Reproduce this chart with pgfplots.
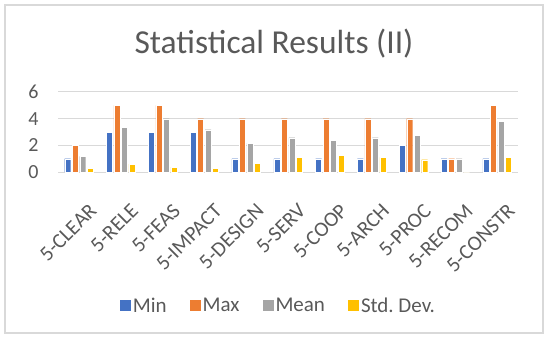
\documentclass[border=0pt]{standalone}
\usepackage{pgfplots}
\pgfplotsset{compat=1.18}
\usepackage{fontspec}
\setmainfont{Carlito}
\definecolor{cMin}{HTML}{4472C4}
\definecolor{cMax}{HTML}{ED7D31}
\definecolor{cMean}{HTML}{A5A5A5}
\definecolor{cStd}{HTML}{FFC000}
\definecolor{txt}{HTML}{595959}
\definecolor{grd}{HTML}{D9D9D9}
\begin{document}
\begin{tikzpicture}[x=1bp,y=1bp]
\path (0,0) rectangle (550,341);
\draw[grd, line width=1.2bp] (5,8) rectangle (543,336);
\node[anchor=base, text=txt, font=\fontsize{33.5bp}{38bp}\selectfont, inner sep=0] at (274,288) {Statistical Results (II)};
\begin{axis}[
  at={(58bp,169bp)}, anchor=south west,
  scale only axis, width=460bp, height=80bp,
  ybar=1.5bp, bar width=6bp,
  xmin=-0.5, xmax=10.5, ymin=0, ymax=6,
  ytick={0,2,4,6},
  xtick={0,...,10},
  xticklabels={5-CLEAR,5-RELE,5-FEAS,5-IMPACT,5-DESIGN,5-SERV,5-COOP,5-ARCH,5-PROC,5-RECOM,5-CONSTR},
  xticklabel style={rotate=45, anchor=north east, inner sep=0pt, font=\fontsize{21bp}{24bp}\selectfont, text=txt, yshift=-25bp, xshift=-12bp},
  yticklabel style={font=\fontsize{20bp}{24bp}\selectfont, text=txt, xshift=-16bp},
  /pgf/number format/assume math mode=true,
  ymajorgrids, grid style={grd, line width=1bp},
  axis line style={draw=none}, major tick style={draw=none},
  legend columns=-1,
  legend style={at={(0.479,-1.67)}, anchor=center, draw=none, fill=none,
    font=\fontsize{21bp}{24bp}\selectfont, text=txt,
    /tikz/every even column/.append style={column sep=21bp}},
  legend image code/.code={\draw[#1, draw=none] (0bp,-5.5bp) rectangle (11bp,5.5bp);},
]
\addplot[fill=cMin, draw=white, line width=0.3bp] coordinates {(0,1) (1,3) (2,3) (3,3) (4,1) (5,1) (6,1) (7,1) (8,2) (9,1) (10,1)};
\addplot[fill=cMax, draw=white, line width=0.3bp] coordinates {(0,2) (1,5) (2,5) (3,4) (4,4) (5,4) (6,4) (7,4) (8,4) (9,1) (10,5)};
\addplot[fill=cMean, draw=white, line width=0.3bp] coordinates {(0,1.17) (1,3.37) (2,4) (3,3.17) (4,2.17) (5,2.57) (6,2.37) (7,2.57) (8,2.77) (9,1) (10,3.8)};
\addplot[fill=cStd, draw=white, line width=0.3bp] coordinates {(0,0.3) (1,0.6) (2,0.37) (3,0.3) (4,0.67) (5,1.1) (6,1.27) (7,1.1) (8,0.92) (9,0) (10,1.1)};
\legend{Min,Max,Mean,Std.\ Dev.}
\end{axis}
\end{tikzpicture}
\end{document}
